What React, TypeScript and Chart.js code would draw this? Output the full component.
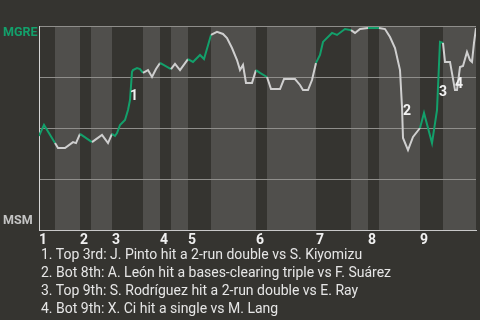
import React, { useEffect, useRef } from "react";
import { Chart, registerables } from "chart.js";

Chart.register(...registerables);

// Inning labels (placed at the start of each top half)
const INNINGS = ["1", "2", "3", "4", "5", "6", "7", "8", "9"];
// Game progress at each half-inning boundary (T1, B1, T2, B2, ... B9, end)
const HALF_BOUNDS = [0, 16, 41, 52, 73, 104, 121, 132, 149, 172, 217, 228, 277, 312, 329, 340, 381, 404, 437];

// Win probability timeline (game progress, MGRE win %)
const PROGRESS = [
  0, 5, 16, 19, 26, 34, 37, 41, 53, 63, 69, 73, 76, 78, 81, 86, 89, 91, 93, 94, 98, 101, 104, 109, 113, 117,
  121, 132, 136, 141, 149, 154, 161, 165, 172, 178, 184, 188, 193, 198, 201, 204, 207, 213, 217, 221, 228,
  232, 241, 245, 256, 261, 264, 269, 273, 277, 281, 284, 293, 298, 306, 311, 312, 316, 321, 329, 340, 346,
  351, 356, 361, 363, 364, 369, 374, 381, 385, 393, 398, 399, 401, 404, 406, 411, 416, 418, 421, 424, 428,
  431, 433, 435, 437,
];
const MGRE_WIN_PCT = [
  46.1, 51.5, 42.6, 40.2, 40.2, 43.1, 42.6, 47.1, 43.1, 46.6, 42.6, 47.1, 46.1, 47.5, 51.5, 53.9, 58.8, 63.7,
  77.5, 78.4, 79.4, 78.9, 77.0, 78.4, 75.0, 78.9, 81.9, 78.9, 81.4, 78.4, 83.8, 82.4, 85.8, 83.8, 95.6, 97.1,
  96.1, 94.1, 89.2, 83.3, 78.4, 80.9, 72.1, 72.1, 78.4, 77.0, 75.0, 69.1, 69.1, 74.0, 74.0, 71.1, 68.6, 68.6,
  73.5, 81.9, 85.8, 92.2, 96.6, 95.6, 98.5, 98.0, 98.0, 96.6, 98.5, 99.0, 99.0, 98.5, 94.6, 89.2, 78.4, 60.3,
  45.1, 39.2, 45.6, 50.0, 57.4, 42.6, 58.8, 70.1, 92.2, 91.7, 82.4, 82.4, 68.6, 68.6, 79.9, 80.4, 87.3, 83.3,
  82.4, 91.7, 99.0,
];

// Key-play markers
const NOTE_IDS = ["1", "2", "3", "4"];
const NOTE_PROGRESS = [95, 368, 404, 420];
const NOTE_PCT = [65.2, 58.3, 67.2, 71.1];
const NOTES = [
  "1. Top 3rd: J. Pinto hit a 2-run double vs S. Kiyomizu",
  "2. Bot 8th: A. León hit a bases-clearing triple vs F. Suárez",
  "3. Top 9th: S. Rodríguez hit a 2-run double vs E. Ray",
  "4. Bot 9th: X. Ci hit a single vs M. Lang",
];

const TEAM_TOP = "MGRE";
const TEAM_BOTTOM = "MSM";

const BG = "#353430";
const BAND = "#504f4c";
const GREEN = "#13a06b";
const WHITE = "#cfcfcf";
const FONT = "Roboto, 'Noto Sans', sans-serif";

function halfIndex(x: number) {
  for (let i = 0; i < HALF_BOUNDS.length - 1; i++) {
    if (x >= HALF_BOUNDS[i] && x < HALF_BOUNDS[i + 1]) return i;
  }
  return HALF_BOUNDS.length - 2;
}

export default function App() {
  const ref = useRef<HTMLCanvasElement | null>(null);

  useEffect(() => {
    document.body.style.margin = "0";
    const canvas = ref.current;
    if (!canvas) return;

    const bandsPlugin = {
      id: "bands",
      beforeDraw(chart: any) {
        const { ctx, chartArea, scales } = chart;
        ctx.save();
        ctx.fillStyle = BG;
        ctx.fillRect(0, 0, chart.width, chart.height);
        ctx.fillStyle = BAND;
        for (let i = 1; i < HALF_BOUNDS.length - 1; i += 2) {
          const x0 = Math.round(scales.x.getPixelForValue(HALF_BOUNDS[i]));
          const x1 = Math.round(scales.x.getPixelForValue(HALF_BOUNDS[i + 1]));
          ctx.fillRect(x0, chartArea.top, x1 - x0, chartArea.bottom - chartArea.top);
        }
        ctx.restore();
      },
      afterDraw(chart: any) {
        const { ctx, chartArea, scales } = chart;
        ctx.save();
        ctx.font = `bold 12.5px ${FONT}`;
        ctx.textBaseline = "middle";
        ctx.textAlign = "left";
        ctx.fillStyle = GREEN;
        ctx.fillText(TEAM_TOP, 3, chartArea.top + 7);
        ctx.fillStyle = "#c4c4c4";
        ctx.fillText(TEAM_BOTTOM, 3, chartArea.bottom - 9);
        ctx.font = `bold 14px ${FONT}`;
        ctx.textAlign = "center";
        ctx.fillStyle = "#f2f2f2";
        NOTE_IDS.forEach((id, i) => {
          ctx.fillText(
            id,
            scales.x.getPixelForValue(NOTE_PROGRESS[i]),
            scales.y.getPixelForValue(NOTE_PCT[i])
          );
        });
        ctx.restore();
      },
    };

    const chart = new Chart(canvas, {
      type: "line",
      data: {
        datasets: [
          {
            data: PROGRESS.map((x, i) => ({ x, y: MGRE_WIN_PCT[i] })),
            borderWidth: 2,
            borderColor: WHITE,
            pointRadius: 0,
            tension: 0,
            segment: {
              borderColor: (ctx: any) => (halfIndex(ctx.p0.parsed.x) % 2 === 0 ? GREEN : WHITE),
            },
          },
        ],
      },
      options: {
        animation: false,
        responsive: false,
        devicePixelRatio: 1,
        layout: { padding: { top: 26, right: 4, left: 0, bottom: 0 } },
        plugins: { legend: { display: false }, tooltip: { enabled: false } },
        scales: {
          x: {
            type: "linear",
            min: 0,
            max: HALF_BOUNDS[HALF_BOUNDS.length - 1],
            grid: { display: false, drawTicks: false },
            border: { display: true, color: "#c8c8c8", width: 1 },
            afterBuildTicks: (scale: any) => {
              scale.ticks = INNINGS.map((_, i) => ({ value: HALF_BOUNDS[i * 2] }));
            },
            afterFit: (scale: any) => {
              scale.height = 18;
            },
            ticks: {
              autoSkip: false,
              maxRotation: 0,
              padding: 2,
              labelOffset: 4,
              color: "#f0f0f0",
              font: { family: FONT, size: 14, weight: "bold" },
              callback: (_v: any, i: number) => INNINGS[i],
            },
          },
          y: {
            min: 0,
            max: 100,
            grid: { color: "#8f8e8b", drawTicks: false, lineWidth: 1 },
            border: { display: true, color: "#d6d6d6", width: 1 },
            ticks: { stepSize: 25, display: false },
            afterFit: (scale: any) => {
              scale.width = 39;
            },
          },
        },
      },
      plugins: [bandsPlugin],
    } as any);

    return () => chart.destroy();
  }, []);

  return (
    <div style={{ position: "relative", width: 480, height: 320, background: BG, overflow: "hidden" }}>
      <canvas ref={ref} width={480} height={248} style={{ display: "block" }} />
      <div
        style={{
          position: "absolute",
          left: 41,
          top: 245,
          fontFamily: FONT,
          fontSize: 14,
          lineHeight: "18px",
          color: "#e6e6e6",
          whiteSpace: "nowrap",
        }}
      >
        {NOTES.map((n, i) => (
          <div key={i}>{n}</div>
        ))}
      </div>
    </div>
  );
}
